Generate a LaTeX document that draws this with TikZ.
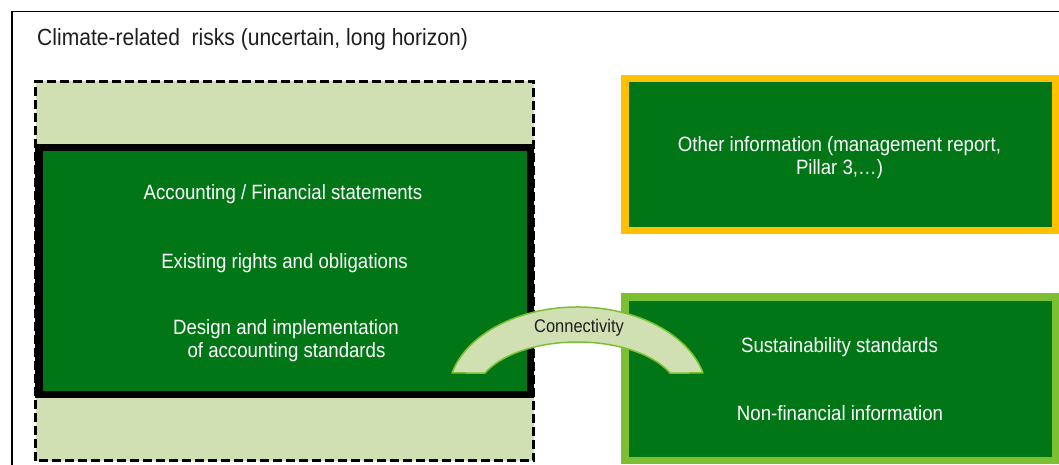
\documentclass[tikz,border=0pt]{standalone}
\usepackage{fontspec}
\setmainfont{Liberation Sans}[FakeStretch=0.9]
\definecolor{boxgreen}{RGB}{0,118,22}
\definecolor{palegreen}{RGB}{208,224,178}
\definecolor{goldline}{RGB}{255,192,0}
\definecolor{limeline}{RGB}{124,192,50}
\definecolor{inkgray}{RGB}{30,30,30}
\tikzset{
  boxtext/.style={inner sep=0pt, anchor=base, text=white, font=\fontsize{20.7}{23}\selectfont},
  titletext/.style={inner sep=0pt, anchor=base west, text=inkgray, font=\fontsize{23.4}{26}\selectfont},
  conntext/.style={inner sep=0pt, anchor=base, text=inkgray, font=\fontsize{18.3}{21}\selectfont},
  dashedframe/.style={draw=black, line width=3.4pt, dash pattern=on 9pt off 4pt, fill=palegreen},
  solidframe/.style={draw=black, line width=7.5pt, fill=boxgreen},
  goldframe/.style={draw=goldline, line width=7.5pt, fill=boxgreen},
  limeframe/.style={draw=limeline, line width=7.5pt, fill=boxgreen},
  bridge/.style={draw=limeline, line width=1.5pt, fill=palegreen, line join=round}
}
\begin{document}
\begin{tikzpicture}[x=1pt,y=1pt]
\useasboundingbox (0,0) rectangle (1059,464);
\clip (0,0) rectangle (1059,464);
% outer frame
\draw[line width=1.2pt, black] (12,-20) rectangle (1080,452.5);
\node[titletext] (title) at (37,418) {Climate-related\ \ risks (uncertain, long horizon)};
% left stack
\draw[dashedframe] (35.5,3.5) rectangle (533.5,382.5);
\draw[solidframe] (38.75,69.75) rectangle (530.25,316.25);
\node[boxtext] (acc) at (283,264) {Accounting / Financial statements};
\node[boxtext] (rights) at (284.5,196) {Existing rights and obligations};
\node[boxtext] (design1) at (286,130) {Design and implementation};
\node[boxtext] (design2) at (286.5,107) {of accounting standards};
% right boxes
\draw[goldframe] (624.75,233.75) rectangle (1055.25,385.25);
\node[boxtext] (other1) at (839.5,312) {Other information (management report,};
\node[boxtext] (other2) at (839.5,289) {Pillar 3,\dots)};
\draw[limeframe] (624.75,3.75) rectangle (1055.25,167.25);
\node[boxtext] (sust) at (839.5,112) {Sustainability standards};
\node[boxtext] (nonfin) at (840,44) {Non-financial information};
% connectivity bridge
\coordinate (arcc) at (577.5,69.4);
\draw[bridge] (arcc) ++(165.7:129.5pt and 87.6pt)
  arc[start angle=165.7, end angle=14.3, x radius=129.5pt, y radius=87.6pt]
  -- (670,90.96)
  arc[start angle=24.2, end angle=155.8, x radius=101.4pt, y radius=52.6pt]
  -- cycle;
\node[conntext] (conn) at (579,132) {Connectivity};
\end{tikzpicture}
\end{document}
